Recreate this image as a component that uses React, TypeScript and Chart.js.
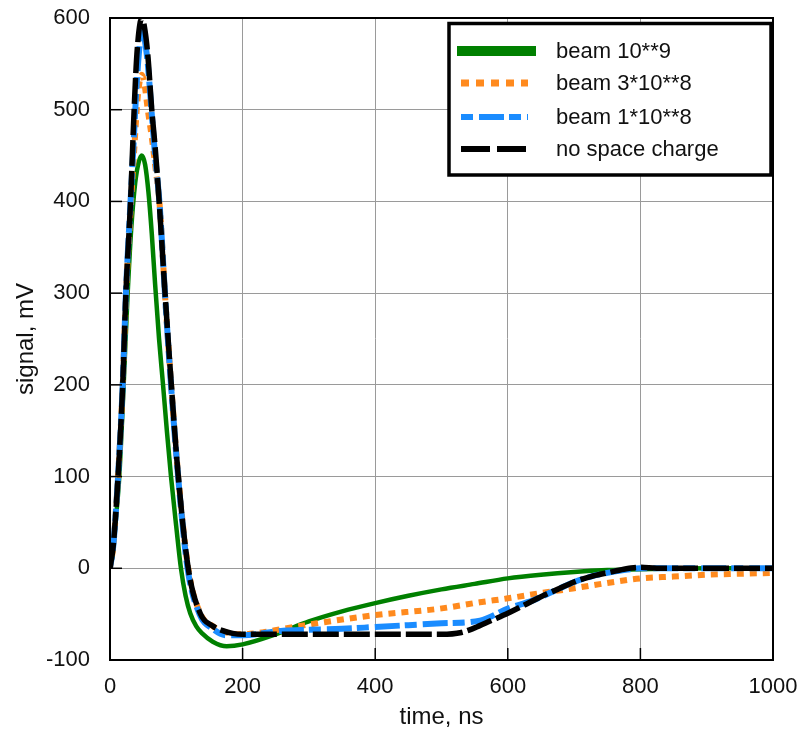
import React, { useEffect, useRef } from 'react';
import { Chart, registerables } from 'chart.js';

Chart.register(...registerables);

// ---- data (time in ns, signal in mV) ----
const greenT = [0, 4, 9, 14, 20, 26, 32, 38, 43, 48, 53, 58, 63, 68, 74, 80, 86, 92, 100, 107, 114, 121, 130, 139, 155, 176, 200, 250, 300, 350, 400, 450, 500, 550, 600, 650, 700, 750, 800, 900, 1000];
const greenV = [0, 15, 55, 100, 190, 290, 370, 420, 442, 450, 440, 410, 365, 310, 250, 200, 148, 100, 45, 0, -30, -49, -63, -71, -80, -85, -83, -72, -58, -47, -38, -30, -23, -17, -11, -7, -4, -2, -1, 0, 0];

const orangeT = [0, 5, 12, 19, 24, 31, 36, 42, 48, 52, 57, 63, 68, 75, 83, 92, 103, 118, 136, 155, 175, 200, 230, 261, 312, 400, 498, 558, 598, 650, 698, 750, 800, 850, 900, 950, 1000];
const orangeV = [0, 25, 98, 195, 295, 390, 450, 515, 538, 528, 500, 470, 440, 395, 298, 203, 100, 0, -49, -63, -70, -72, -70, -66, -60, -51, -44, -37, -33, -27, -22, -16, -11, -9, -7, -6, -5];

const blueT = [0, 5, 12, 19, 24, 31, 35, 40, 44, 48, 52, 57, 63, 68, 75, 83, 92, 103, 117, 135, 155, 175, 200, 261, 300, 350, 400, 450, 500, 558, 600, 638, 675, 700, 725, 750, 775, 800, 900, 1000];
const blueV = [0, 25, 98, 197, 300, 400, 455, 525, 565, 588, 578, 550, 495, 450, 395, 298, 200, 98, 0, -50, -66, -73, -73, -68, -67, -66, -64, -62, -60, -57, -44, -35, -23, -15, -9, -5, -2, 0, 0, 0];

const blackT = [0, 5, 12, 19, 24, 31, 34, 37, 41, 48, 52, 57, 63, 68, 73, 83, 92, 103, 118, 136, 155, 170, 185, 200, 300, 400, 500, 530, 550, 575, 600, 625, 650, 675, 700, 725, 750, 775, 800, 825, 900, 1000];
const blackV = [0, 25, 98, 197, 300, 400, 456, 510, 565, 600, 590, 560, 500, 460, 412, 300, 205, 100, 0, -49, -63, -68, -71, -72, -72, -72, -72, -70, -65, -57, -49, -40, -31, -23, -15, -9, -5, -1, 1, 0, 0, 0];

const seriesLabels = ['beam 10**9', 'beam 3*10**8', 'beam 1*10**8', 'no space charge'];
const xTickValues = [0, 200, 400, 600, 800, 1000];
const yTickValues = [-100, 0, 100, 200, 300, 400, 500, 600];

// ---- styles ----
const FONT = '"Liberation Sans", Arial, sans-serif';
const TEXT = '#111111';
const colors = ['#008000', '#ff8a1e', '#1a8cff', '#000000'];
const widths = [4.5, 6, 6, 5.5];
const dashes: number[][] = [[], [7, 6], [12, 6, 25, 5], [26, 5]];
const legendWidths = [10, 7, 6, 6];
const legendDashes: number[][] = [[], [8, 7], [12, 6, 25, 5], [29, 7]];

function pts(t: number[], v: number[]) {
  return t.map((x, i) => ({ x, y: v[i] }));
}

const overlay = {
  id: 'overlay',
  afterDraw(chart: any) {
    const { ctx, chartArea: a, scales } = chart;
    ctx.save();
    // inner tick marks
    ctx.strokeStyle = '#000';
    ctx.lineWidth = 1.5;
    ctx.setLineDash([]);
    xTickValues.forEach((v) => {
      const px = scales.x.getPixelForValue(v);
      ctx.beginPath();
      ctx.moveTo(px, a.bottom);
      ctx.lineTo(px, a.bottom - 12);
      ctx.stroke();
    });
    yTickValues.forEach((v) => {
      const py = scales.y.getPixelForValue(v);
      ctx.beginPath();
      ctx.moveTo(a.left, py);
      ctx.lineTo(a.left + 12, py);
      ctx.stroke();
    });
    // frame
    ctx.lineWidth = 2;
    ctx.strokeRect(a.left, a.top, a.right - a.left, a.bottom - a.top);

    // legend box
    const bx = 449;
    const by = 23.5;
    const bw = 322;
    const bh = 151.5;
    ctx.fillStyle = '#fff';
    ctx.fillRect(bx, by, bw, bh);
    ctx.strokeStyle = '#000';
    ctx.lineWidth = 3.5;
    ctx.strokeRect(bx, by, bw, bh);

    const rowY = [51, 83, 117, 149];
    ctx.font = `22px ${FONT}`;
    ctx.textBaseline = 'middle';
    ctx.textAlign = 'left';
    seriesLabels.forEach((lab, i) => {
      const y = rowY[i];
      ctx.strokeStyle = colors[i];
      ctx.lineWidth = legendWidths[i];
      ctx.lineCap = 'butt';
      ctx.setLineDash(legendDashes[i]);
      ctx.beginPath();
      ctx.moveTo(i === 0 ? 457 : 461, y);
      ctx.lineTo(i === 0 ? 536 : 528, y);
      ctx.stroke();
      ctx.setLineDash([]);
      ctx.fillStyle = TEXT;
      ctx.fillText(lab, 556, y + 1);
    });
    ctx.restore();
  },
};

export default function App() {
  const ref = useRef<HTMLCanvasElement | null>(null);

  useEffect(() => {
    const prevMargin = document.body.style.margin;
    document.body.style.margin = '0';
    const canvas = ref.current;
    if (!canvas) return;
    const series = [
      pts(greenT, greenV),
      pts(orangeT, orangeV),
      pts(blueT, blueV),
      pts(blackT, blackV),
    ];
    const chart = new Chart(canvas, {
      type: 'line',
      data: {
        datasets: series.map((d, i) => ({
          label: seriesLabels[i],
          data: d,
          borderColor: colors[i],
          backgroundColor: colors[i],
          borderWidth: widths[i],
          borderDash: dashes[i],
          borderCapStyle: 'butt',
          borderJoinStyle: 'round',
          pointRadius: 0,
          fill: false,
          cubicInterpolationMode: 'monotone',
          order: 4 - i,
        })),
      },
      options: {
        animation: false,
        responsive: false,
        devicePixelRatio: 1,
        layout: { padding: { top: 18, right: 31, left: 0, bottom: 0 } },
        plugins: {
          legend: { display: false },
          tooltip: { enabled: false },
        },
        scales: {
          x: {
            type: 'linear',
            min: 0,
            max: 1000,
            afterFit: (s: any) => {
              s.height = 76;
              s.paddingLeft = 0;
              s.paddingRight = 0;
            },
            afterBuildTicks: (s: any) => {
              s.ticks = xTickValues.map((v) => ({ value: v }));
            },
            ticks: {
              padding: 14,
              color: TEXT,
              font: { family: FONT, size: 22 },
              maxRotation: 0,
              callback: (v: any) => String(v),
            },
            grid: { color: '#9a9a9a', lineWidth: 1, drawTicks: false, tickLength: 0 },
            border: { display: true, color: '#000', width: 2 },
            title: {
              display: true,
              text: 'time, ns',
              color: TEXT,
              font: { family: FONT, size: 24 },
              padding: { top: 0, bottom: 4 },
            },
          },
          y: {
            type: 'linear',
            min: -100,
            max: 600,
            afterFit: (s: any) => {
              s.width = 110;
              s.paddingTop = 0;
              s.paddingBottom = 0;
            },
            afterBuildTicks: (s: any) => {
              s.ticks = yTickValues.map((v) => ({ value: v }));
            },
            ticks: {
              padding: 20,
              color: TEXT,
              font: { family: FONT, size: 22 },
              callback: (v: any) => String(v),
            },
            grid: { color: '#9a9a9a', lineWidth: 1, drawTicks: false, tickLength: 0 },
            border: { display: true, color: '#000', width: 2 },
            title: {
              display: true,
              text: 'signal, mV',
              color: TEXT,
              font: { family: FONT, size: 24 },
              padding: { top: 12, bottom: 0 },
            },
          },
        },
      } as any,
      plugins: [overlay],
    });
    return () => {
      chart.destroy();
      document.body.style.margin = prevMargin;
    };
  }, []);

  return (
    <div style={{ position: 'fixed', left: 0, top: 0, width: 804, height: 736, background: '#fff' }}>
      <canvas ref={ref} width={804} height={736} style={{ display: 'block' }} />
    </div>
  );
}
